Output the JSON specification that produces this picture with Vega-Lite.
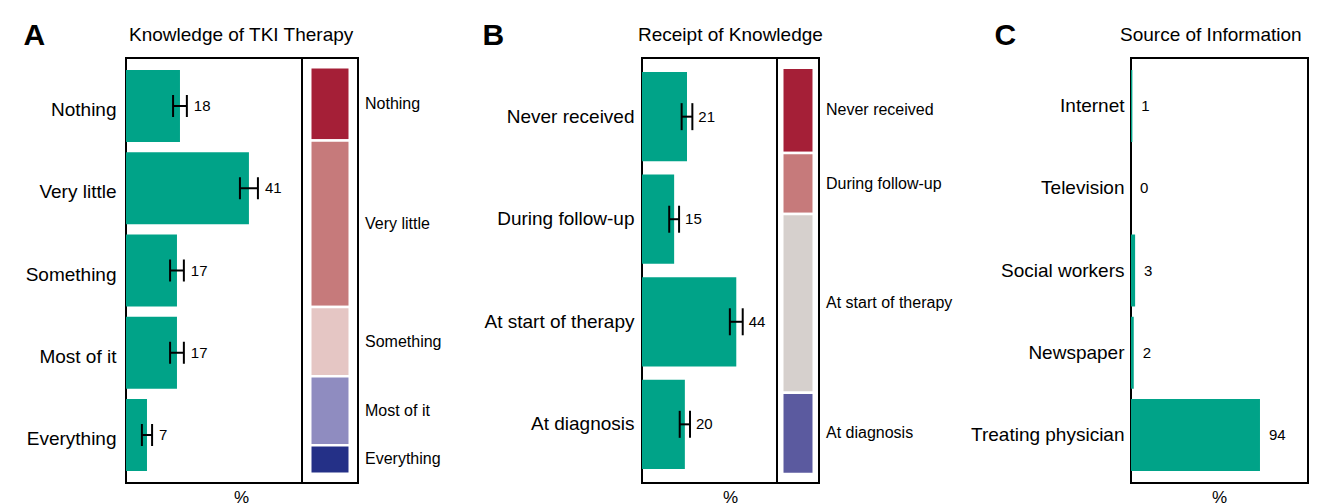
{
  "$schema": "https://vega.github.io/schema/vega-lite/v6.json",
  "padding": {"left": 22, "top": 19, "right": 0, "bottom": 0},
  "background": "white",
  "bounds": "flush",
  "spacing": 0,
  "resolve": {"scale": {"color": "independent"}},
  "config": {
    "font": "Liberation Sans",
    "view": {"stroke": "#000", "strokeWidth": 2},
    "text": {"color": "#000"}
  },
  "datasets": {
    "knowledge": [
      {"level": "Nothing", "order": 1, "pct": 18, "lo": 15.7, "hi": 20.3},
      {"level": "Very little", "order": 2, "pct": 41, "lo": 38, "hi": 44},
      {"level": "Something", "order": 3, "pct": 17, "lo": 14.7, "hi": 19.3},
      {"level": "Most of it", "order": 4, "pct": 17, "lo": 14.7, "hi": 19.3},
      {"level": "Everything", "order": 5, "pct": 7, "lo": 5.3, "hi": 8.7}
    ],
    "receipt": [
      {"when": "Never received", "order": 1, "pct": 21, "lo": 18.5, "hi": 23.5},
      {"when": "During follow-up", "order": 2, "pct": 15, "lo": 12.7, "hi": 17.3},
      {"when": "At start of therapy", "order": 3, "pct": 44, "lo": 41, "hi": 47},
      {"when": "At diagnosis", "order": 4, "pct": 20, "lo": 17.6, "hi": 22.4}
    ],
    "source": [
      {"src": "Internet", "pct": 1},
      {"src": "Television", "pct": 0},
      {"src": "Social workers", "pct": 3},
      {"src": "Newspaper", "pct": 2},
      {"src": "Treating physician", "pct": 94}
    ]
  },
  "hconcat": [
    {
      "width": 176, "height": 425,
      "data": {"name": "knowledge"},
      "title": {"text": "Knowledge of TKI Therapy", "anchor": "start", "frame": "group", "dx": 3, "fontSize": 19, "fontWeight": "normal", "baseline": "alphabetic", "offset": -40, "color": "#000"},
      "encoding": {
        "y": {"field": "level", "type": "nominal", "sort": ["Nothing", "Very little", "Something", "Most of it", "Everything"],
          "scale": {"paddingInner": 0.125, "paddingOuter": 0.146},
          "axis": {"title": "A", "titleX": -103, "titleY": -14, "titleAngle": 0, "titleAlign": "left", "titleBaseline": "alphabetic", "titleFontSize": 30, "titleFontWeight": "bold", "titleColor": "#000", "labelFontSize": 19, "labelColor": "#000", "labelPadding": 10, "labelOffset": 4, "ticks": false, "domain": false, "labelLimit": 300}}
      },
      "layer": [
        {"mark": {"type": "bar", "color": "#00A388"},
         "encoding": {"x": {"field": "pct", "type": "quantitative", "title": "%", "scale": {"domain": [0, 58.7], "nice": false},
           "axis": {"labels": false, "ticks": false, "domain": false, "grid": false, "titleX": 115, "titleY": 19, "titleAlign": "center", "titleBaseline": "alphabetic", "titleFontSize": 17, "titleFontWeight": "normal", "titleColor": "#000"}}}},
        {"mark": {"type": "rule", "color": "#000", "strokeWidth": 2},
         "encoding": {"x": {"field": "lo", "type": "quantitative", "title": "%"}, "x2": {"field": "hi"}}},
        {"mark": {"type": "tick", "color": "#000", "thickness": 2, "size": 22, "opacity": 1},
         "encoding": {"x": {"field": "lo", "type": "quantitative", "title": "%"}}},
        {"mark": {"type": "tick", "color": "#000", "thickness": 2, "size": 22, "opacity": 1},
         "encoding": {"x": {"field": "hi", "type": "quantitative", "title": "%"}}},
        {"mark": {"type": "text", "align": "left", "baseline": "middle", "dx": 7, "fontSize": 15},
         "encoding": {"x": {"field": "hi", "type": "quantitative", "title": "%"}, "text": {"field": "pct", "type": "quantitative"}}}
      ]
    },
    {
      "width": 56, "height": 425,
      "data": {"name": "knowledge"},
      "transform": [{"stack": "pct", "groupby": [], "sort": [{"field": "order", "order": "ascending"}], "as": ["y0", "y1"]}],
      "encoding": {
        "x": {"datum": "all", "type": "nominal", "axis": null}
      },
      "layer": [
        {"mark": {"type": "bar", "size": 39.5, "stroke": "white", "strokeWidth": 2.5},
         "encoding": {
           "y": {"field": "y0", "type": "quantitative", "scale": {"domain": [-2.3, 102.3], "reverse": true, "nice": false, "zero": false}, "axis": null},
           "y2": {"field": "y1"},
           "color": {"field": "level", "type": "nominal", "legend": null,
           "scale": {"domain": ["Nothing", "Very little", "Something", "Most of it", "Everything"], "range": ["#A51F37", "#C67A7B", "#E5C6C4", "#8F8CC0", "#243087"]}}}},
        {"transform": [
           {"fold": ["y0", "y1"], "as": ["edge", "yy"]},
           {"aggregate": [{"op": "mean", "field": "yy", "as": "ymid"}], "groupby": ["level"]}
         ],
         "mark": {"type": "text", "align": "left", "baseline": "middle", "dx": 35, "fontSize": 16},
         "encoding": {
           "y": {"field": "ymid", "type": "quantitative", "axis": null},
           "text": {"field": "level", "type": "nominal"}}}
      ]
    },
    {
      "width": 284, "height": 425,
      "view": {"stroke": null},
      "data": {"values": []},
      "mark": "point",
      "encoding": {}
    },
    {
      "width": 135, "height": 425,
      "data": {"name": "receipt"},
      "title": {"text": "Receipt of Knowledge", "anchor": "start", "frame": "group", "dx": -4, "fontSize": 19, "fontWeight": "normal", "baseline": "alphabetic", "offset": -40, "color": "#000"},
      "encoding": {
        "y": {"field": "when", "type": "nominal", "sort": ["Never received", "During follow-up", "At start of therapy", "At diagnosis"],
          "scale": {"paddingInner": 0.13, "paddingOuter": 0.137},
          "axis": {"title": "B", "titleX": -160, "titleY": -14, "titleAngle": 0, "titleAlign": "left", "titleBaseline": "alphabetic", "titleFontSize": 30, "titleFontWeight": "bold", "titleColor": "#000", "labelFontSize": 19, "labelColor": "#000", "labelPadding": 8, "ticks": false, "domain": false, "labelLimit": 300}}
      },
      "layer": [
        {"mark": {"type": "bar", "color": "#00A388"},
         "encoding": {"x": {"field": "pct", "type": "quantitative", "title": "%", "scale": {"domain": [0, 63], "nice": false},
           "axis": {"labels": false, "ticks": false, "domain": false, "grid": false, "titleX": 88, "titleY": 19, "titleAlign": "center", "titleBaseline": "alphabetic", "titleFontSize": 17, "titleFontWeight": "normal", "titleColor": "#000"}}}},
        {"mark": {"type": "rule", "color": "#000", "strokeWidth": 2},
         "encoding": {"x": {"field": "lo", "type": "quantitative", "title": "%"}, "x2": {"field": "hi"}}},
        {"mark": {"type": "tick", "color": "#000", "thickness": 2, "size": 27, "opacity": 1},
         "encoding": {"x": {"field": "lo", "type": "quantitative", "title": "%"}}},
        {"mark": {"type": "tick", "color": "#000", "thickness": 2, "size": 27, "opacity": 1},
         "encoding": {"x": {"field": "hi", "type": "quantitative", "title": "%"}}},
        {"mark": {"type": "text", "align": "left", "baseline": "middle", "dx": 6, "fontSize": 15},
         "encoding": {"x": {"field": "hi", "type": "quantitative", "title": "%"}, "text": {"field": "pct", "type": "quantitative"}}}
      ]
    },
    {
      "width": 42, "height": 425,
      "data": {"name": "receipt"},
      "transform": [{"stack": "pct", "groupby": [], "sort": [{"field": "order", "order": "ascending"}], "as": ["y0", "y1"]}],
      "encoding": {
        "x": {"datum": "all", "type": "nominal", "axis": null}
      },
      "layer": [
        {"mark": {"type": "bar", "size": 31.5, "stroke": "white", "strokeWidth": 2.5},
         "encoding": {
           "y": {"field": "y0", "type": "quantitative", "scale": {"domain": [-2.4, 102.2], "reverse": true, "nice": false, "zero": false}, "axis": null},
           "y2": {"field": "y1"},
           "color": {"field": "when", "type": "nominal", "legend": null,
           "scale": {"domain": ["Never received", "During follow-up", "At start of therapy", "At diagnosis"], "range": ["#A51F37", "#C67A7B", "#D6D0CD", "#5B5A9F"]}}}},
        {"transform": [
           {"fold": ["y0", "y1"], "as": ["edge", "yy"]},
           {"aggregate": [{"op": "mean", "field": "yy", "as": "ymid"}], "groupby": ["when"]}
         ],
         "mark": {"type": "text", "align": "left", "baseline": "middle", "dx": 28, "fontSize": 16},
         "encoding": {
           "y": {"field": "ymid", "type": "quantitative", "axis": null},
           "text": {"field": "when", "type": "nominal"}}}
      ]
    },
    {
      "width": 312, "height": 425,
      "view": {"stroke": null},
      "data": {"values": []},
      "mark": "point",
      "encoding": {}
    },
    {
      "width": 177, "height": 425,
      "data": {"name": "source"},
      "title": {"text": "Source of Information", "anchor": "start", "frame": "group", "dx": -11, "fontSize": 19, "fontWeight": "normal", "baseline": "alphabetic", "offset": -40, "color": "#000"},
      "encoding": {
        "y": {"field": "src", "type": "nominal", "sort": ["Internet", "Television", "Social workers", "Newspaper", "Treating physician"],
          "scale": {"paddingInner": 0.125, "paddingOuter": 0.146},
          "axis": {"title": "C", "titleX": -137, "titleY": -14, "titleAngle": 0, "titleAlign": "left", "titleBaseline": "alphabetic", "titleFontSize": 30, "titleFontWeight": "bold", "titleColor": "#000", "labelFontSize": 19, "labelColor": "#000", "labelPadding": 7, "ticks": false, "domain": false, "labelLimit": 300}}
      },
      "layer": [
        {"mark": {"type": "bar", "color": "#00A388"},
         "encoding": {"x": {"field": "pct", "type": "quantitative", "title": "%", "scale": {"domain": [0, 129], "nice": false},
           "axis": {"labels": false, "ticks": false, "domain": false, "grid": false, "titleX": 88, "titleY": 19, "titleAlign": "center", "titleBaseline": "alphabetic", "titleFontSize": 17, "titleFontWeight": "normal", "titleColor": "#000"}}}},
        {"mark": {"type": "text", "align": "left", "baseline": "middle", "dx": 9, "fontSize": 15},
         "encoding": {"x": {"field": "pct", "type": "quantitative", "title": "%"}, "text": {"field": "pct", "type": "quantitative"}}}
      ]
    }
  ]
}
